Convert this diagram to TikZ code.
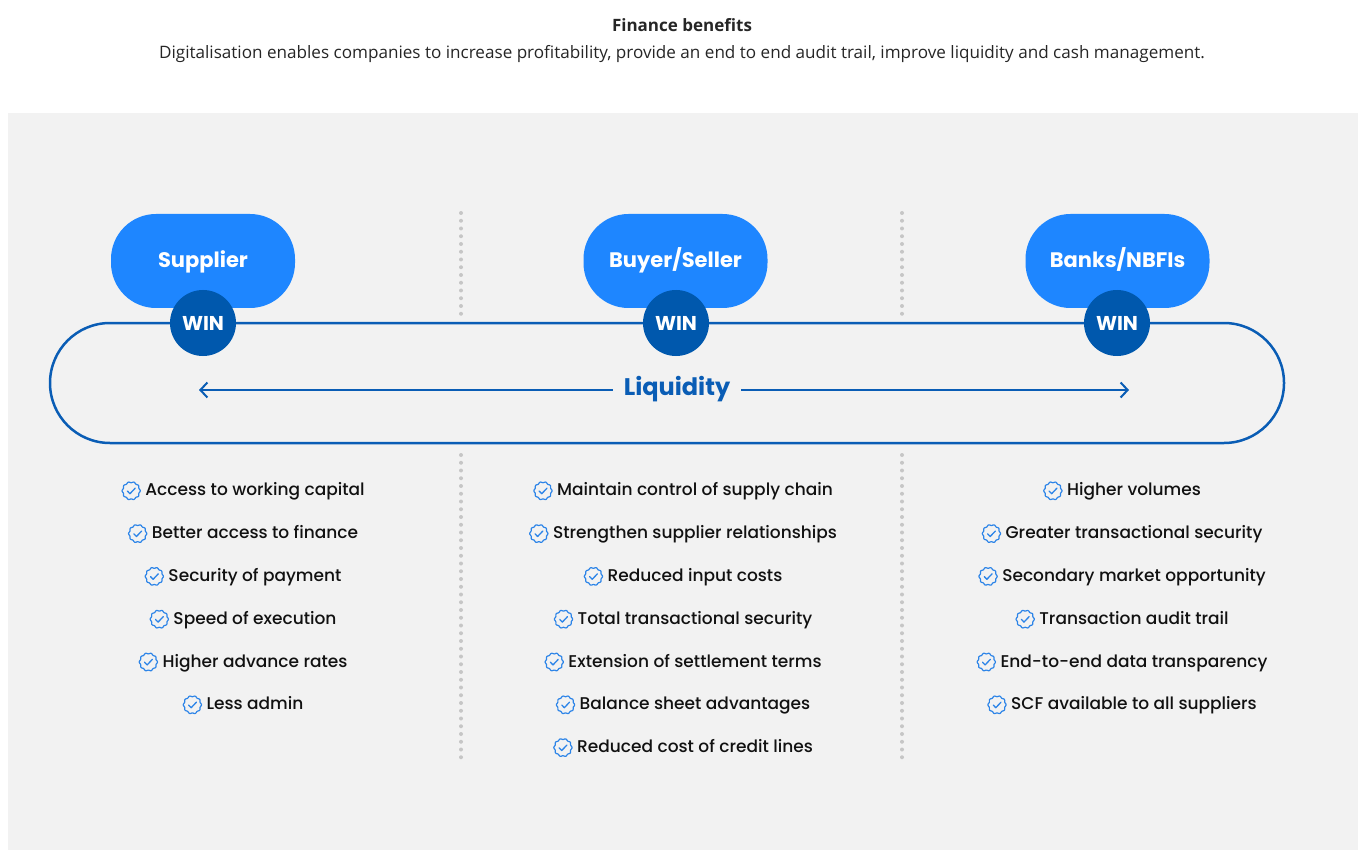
\documentclass[tikz,border=0pt]{standalone}
\usepackage{fontspec}
\setmainfont{Poppins}
\newfontfamily\itemfont{Poppins Medium}
\newfontfamily\titlefont{Open Sans}
\usetikzlibrary{arrows.meta,positioning}

\definecolor{bgGray}{HTML}{F2F2F2}
\definecolor{partyBlue}{HTML}{1E86FF}
\definecolor{winBlue}{HTML}{0058AD}
\definecolor{lineBlue}{HTML}{0A5DB5}
\definecolor{checkBlue}{HTML}{2C84E8}
\definecolor{dotGray}{HTML}{C6C6C6}
\definecolor{itemText}{HTML}{111111}

\tikzset{
  party/.style={fill=partyBlue, rounded corners=45pt, minimum width=184pt, minimum height=94pt,
    text height=15pt, text depth=1pt,
    text=white, font=\fontsize{21}{24}\selectfont\bfseries},
  win/.style={circle, fill=winBlue, minimum size=66pt, inner sep=0pt,
    text=white, font=\fontsize{20}{24}\selectfont\bfseries},
  item/.style={text=itemText, font=\itemfont\fontsize{17}{20}\selectfont, inner sep=0pt,
    text height=12pt, text depth=4pt},
  sepdots/.style={dotGray, line width=4pt, line cap=round, dash pattern=on 0pt off 7.75pt},
  flow/.style={lineBlue, line width=2pt, -{Straight Barb[length=7pt,width=15pt]}},
  badge/.pic={
    \draw[checkBlue, line width=1.2pt] plot[domain=0:360, samples=121] (\x:{8.6+0.5*cos(10*\x)}) -- cycle;
    \draw[checkBlue, line width=1.3pt, line cap=round, line join=round] (-3.8,0.2) -- (-1.2,2.9) -- (4,-2.6);
  }
}

\begin{document}
\begin{tikzpicture}[x=1pt,y=-1pt]
    \useasboundingbox[fill=white] (0,0) rectangle (1364,858);
    %Titel
    \node[font=\titlefont\fontsize{17}{20}\selectfont\bfseries, text=black!85] (title) at (682,25) {Finance benefits};
    \node[font=\titlefont\fontsize{17.1}{20}\selectfont, text=black!85] (subtitle) at (682,54)
        {Digitalisation enables companies to increase profitability, provide an end to end audit trail, improve liquidity and cash management.};
    %Hintergrund
    \fill[bgGray] (8,113) rectangle (1358,850);
    %Trennlinien
    \draw[sepdots] (461,213) -- (461,315);
    \draw[sepdots] (461,455) -- (461,762);
    \draw[sepdots] (902,213) -- (902,315);
    \draw[sepdots] (902,455) -- (902,762);
    %Schleife
    \draw[lineBlue, line width=2.5pt, rounded corners=60pt] (50,323) rectangle (1284,443);
    %Parteien
    \node[party] (sup) at (203,261) {Supplier};
    \node[party] (buy) at (675.5,261) {Buyer/Seller};
    \node[party] (bank) at (1117.5,261) {Banks/NBFIs};
    \node[win] (w1) at (203,323) {WIN};
    \node[win] (w2) at (676,323) {WIN};
    \node[win] (w3) at (1117,323) {WIN};
    %Liquiditaet
    \node[text=lineBlue, font=\fontsize{24}{28}\selectfont\bfseries, inner xsep=11pt] (liq) at (677,389) {Liquidity};
    \coordinate (lend) at (199,390);
    \coordinate (rend) at (1129,390);
    \draw[flow] (liq.west |- lend) -- (lend);
    \draw[flow] (liq.east |- rend) -- (rend);
    %Vorteile
    \foreach \t [count=\i] in {Access to working capital, Better access to finance, Security of payment,
        Speed of execution, Higher advance rates, Less admin}
        \node[item] (s\i) at (255,{449+42.8*\i}) {\t};
    \foreach \t [count=\i] in {Maintain control of supply chain, Strengthen supplier relationships,
        Reduced input costs, Total transactional security, Extension of settlement terms,
        Balance sheet advantages, Reduced cost of credit lines}
        \node[item] (b\i) at (695,{449+42.8*\i}) {\t};
    \foreach \t [count=\i] in {Higher volumes, Greater transactional security, Secondary market opportunity,
        Transaction audit trail, End-to-end data transparency, SCF available to all suppliers}
        \node[item] (n\i) at (1134,{449+42.8*\i}) {\t};
    \foreach \i in {1,...,6} \pic at ([xshift=-14pt,yshift=1pt]s\i.west) {badge};
    \foreach \i in {1,...,7} \pic at ([xshift=-14pt,yshift=1pt]b\i.west) {badge};
    \foreach \i in {1,...,6} \pic at ([xshift=-14pt,yshift=1pt]n\i.west) {badge};
\end{tikzpicture}
\end{document}
